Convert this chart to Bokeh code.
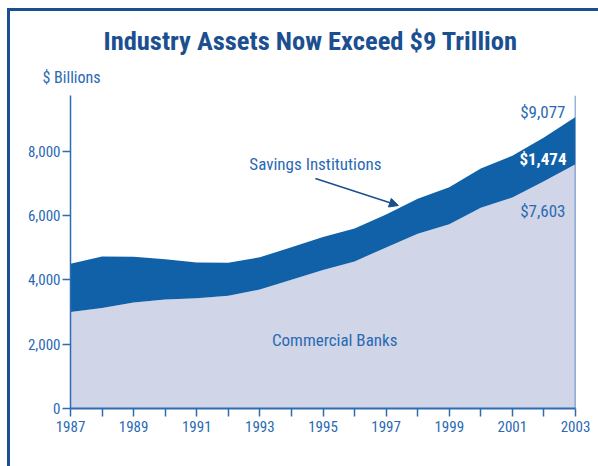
from bokeh.plotting import figure
from bokeh.models import (ColumnDataSource, Label, Arrow, NormalHead, Span,
                          FixedTicker, Range1d, NumeralTickFormatter, Title)
from bokeh.embed import file_html
from bokeh.resources import INLINE

years = list(range(1987, 2004))
commercial_banks = [3000, 3131, 3299, 3390, 3431, 3506, 3706, 4011, 4313,
                    4578, 5015, 5442, 5735, 6246, 6569, 7077, 7603]
savings_institutions = [1504, 1600, 1428, 1259, 1113, 1030, 1001, 1009, 1026,
                        1028, 1026, 1088, 1149, 1223, 1299, 1358, 1474]
y_ticks = [0, 2000, 4000, 6000, 8000]
x_label_years = list(range(1987, 2004, 2))

total = [c + s for c, s in zip(commercial_banks, savings_institutions)]

FONT = "'Roboto Condensed', 'Liberation Sans Narrow', 'Noto Sans Condensed', 'DejaVu Sans Condensed', sans-serif"
BLUE_TXT = "#2a6ab3"
TITLE_C = "#1b4f8f"
DARK = "#1161a8"
LIGHT = "#d0d5e8"
AXIS_C = "#2e6cb2"

W, H = 588, 455

src = ColumnDataSource(dict(x=years, cb=commercial_banks, tot=total,
                            zero=[0] * len(years)))

p = figure(width=W, height=H, output_backend="svg", toolbar_location=None,
           x_range=Range1d(1987, 2003), y_range=Range1d(0, 9743),
           frame_width=505, frame_height=313, title_location=None,
           min_border_left=60, min_border_right=23,
           min_border_top=84, min_border_bottom=58)
p.margin = (8, 0, 0, 7)
p.styles = {"border-left": f"3px solid {TITLE_C}", "border-top": f"3px solid {TITLE_C}"}
p.outline_line_color = None
p.grid.grid_line_color = None
p.background_fill_color = "white"
p.border_fill_color = "white"

p.varea(x="x", y1="zero", y2="cb", source=src, fill_color=LIGHT)
p.varea(x="x", y1="cb", y2="tot", source=src, fill_color=DARK)

# right border line of plot area
p.add_layout(Span(location=2003, dimension="height", line_color=AXIS_C, line_width=1.5))

# axes
xa = p.xaxis[0]
xa.ticker = FixedTicker(ticks=years)
xa.major_label_overrides = {y: (str(y) if y in x_label_years else "") for y in years}
xa.minor_tick_line_color = None
xa.major_tick_in = 0
xa.major_tick_out = 8
xa.axis_line_color = AXIS_C
xa.axis_line_width = 2
xa.major_tick_line_color = AXIS_C
xa.major_tick_line_width = 1.5
xa.major_label_text_font = FONT
xa.major_label_text_font_size = "15px"
xa.major_label_text_color = BLUE_TXT
xa.major_label_standoff = 4

ya = p.yaxis[0]
ya.ticker = FixedTicker(ticks=y_ticks)
ya.formatter = NumeralTickFormatter(format="0,0")
ya.minor_tick_line_color = None
ya.major_tick_in = 0
ya.major_tick_out = 8
ya.axis_line_color = AXIS_C
ya.axis_line_width = 1.5
ya.major_tick_line_color = AXIS_C
ya.major_tick_line_width = 1.5
ya.major_label_text_font = FONT
ya.major_label_text_font_size = "15px"
ya.major_label_text_color = BLUE_TXT
ya.major_label_standoff = 2

# unit label (nearest the frame) and main title, stacked above
p.add_layout(Title(text="$ Billions", align="left", offset=-28, standoff=17,
                   text_font=FONT, text_font_style="normal", text_font_size="16px",
                   text_color=BLUE_TXT), "above")
p.add_layout(Title(text="Industry Assets Now Exceed $9 Trillion", align="left",
                   offset=33, standoff=3, text_font=FONT, text_font_style="bold",
                   text_font_size="26.5px", text_color=TITLE_C), "above")

# end-value annotations
p.add_layout(Label(x=years[-1], y=total[-1], x_offset=-10, y_offset=5,
                   text=f"${total[-1]:,}", text_font=FONT, text_font_size="17px",
                   text_color=BLUE_TXT, text_align="right", text_baseline="middle"))
p.add_layout(Label(x=years[-1], y=commercial_banks[-1], x_offset=-9, y_offset=5,
                   text=f"${savings_institutions[-1]:,}", text_font=FONT,
                   text_font_style="bold", text_font_size="17px",
                   text_color="white", text_align="right", text_baseline="middle"))
p.add_layout(Label(x=years[-1], y=commercial_banks[-1], x_offset=-10, y_offset=-47,
                   text=f"${commercial_banks[-1]:,}", text_font=FONT, text_font_size="17px",
                   text_color=BLUE_TXT, text_align="right", text_baseline="middle"))

# series labels
p.add_layout(Label(x=1994.76, y=7626, text="Savings Institutions", text_font=FONT,
                   text_font_size="17px", text_color=BLUE_TXT,
                   text_align="center", text_baseline="middle"))
p.add_layout(Arrow(x_start=1994.76, y_start=7160, x_end=1997.39, y_end=6319,
                   line_color=TITLE_C, line_width=1.5,
                   end=NormalHead(size=9, fill_color=TITLE_C, line_color=TITLE_C)))
p.add_layout(Label(x=1995.37, y=2117, text="Commercial Banks", text_font=FONT,
                   text_font_size="17px", text_color=BLUE_TXT,
                   text_align="center", text_baseline="middle"))

open("out.html", "w").write(file_html(p, INLINE))
